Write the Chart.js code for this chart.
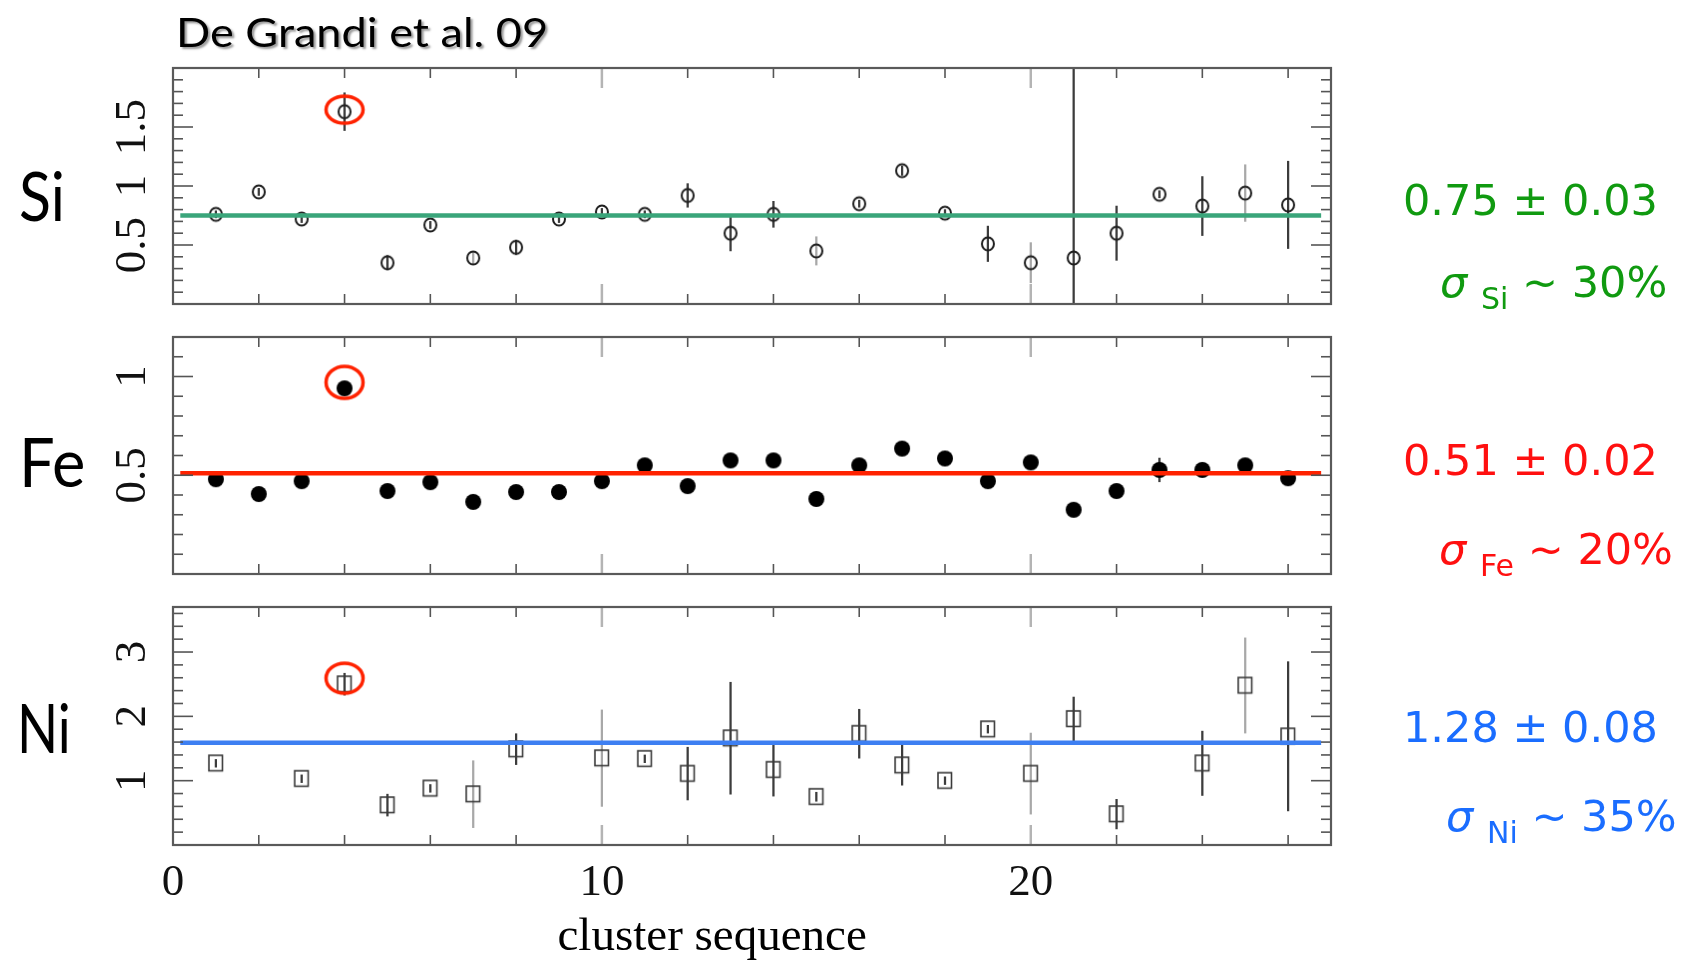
<!DOCTYPE html>
<html>
<head>
<meta charset="utf-8">
<title>Si, Fe and Ni abundances along the cluster sequence</title>
<script src="https://cdn.jsdelivr.net/npm/chart.js@4.4.1/dist/chart.umd.min.js"></script>
<style>
  html, body { margin: 0; padding: 0; background: #fff; }
  #page { position: relative; width: 1684px; height: 960px; overflow: hidden; background: #fff; }
  #page canvas { position: absolute; left: 0; top: 0; }
  .txt { position: absolute; left: 0; top: 0; white-space: nowrap; line-height: 1; }
  .sans { font-family: Lato, "Open Sans", sans-serif; color: #000; }
  .title { font-size: 40px; text-shadow: 2px 2px 2px rgba(0,0,0,0.4); }
  .elem { font-size: 68px; }
  .note { font-family: "DejaVu Sans", Verdana, sans-serif; font-size: 43px; }
  .note .sg { font-style: italic; }
  .note .sb { font-size: 30px; position: relative; top: 12px; }
  .axt { font-family: "Liberation Serif", "Times New Roman", serif; font-size: 47px; color: #000; }
  .green { color: #109a10; }
  .red { color: #ff1010; }
  .blue { color: #1a6dff; }
</style>
</head>
<body>
<div id="page">
  <canvas id="chartSi" width="1684" height="960"></canvas>
  <canvas id="chartFe" width="1684" height="960"></canvas>
  <canvas id="chartNi" width="1684" height="960"></canvas>

  <div class="txt sans title" id="tTitle">De Grandi et al. 09</div>
  <div class="txt sans elem" id="tSi">Si</div>
  <div class="txt sans elem" id="tFe">Fe</div>
  <div class="txt sans elem" id="tNi">Ni</div>

  <div class="txt note green" id="mSi">0.75 ± 0.03</div>
  <div class="txt note green" id="sSi"><span class="sg">σ</span> <span class="sb">Si</span> ~ 30%</div>
  <div class="txt note red" id="mFe">0.51 ± 0.02</div>
  <div class="txt note red" id="sFe"><span class="sg">σ</span> <span class="sb">Fe</span> ~ 20%</div>
  <div class="txt note blue" id="mNi">1.28 ± 0.08</div>
  <div class="txt note blue" id="sNi"><span class="sg">σ</span> <span class="sb">Ni</span> ~ 35%</div>

  <div class="txt axt" id="tAxis">cluster sequence</div>
</div>

<script>
// ---- data -------------------------------------------------------------
const clusters = [1, 2, 3, 4, 5, 6, 7, 8, 9, 10, 11, 12, 13, 14, 15, 16, 17, 18, 19, 20, 21, 22, 23, 24, 25, 26];

const siValues = [0.76, 0.95, 0.72, 1.63, 0.35, 0.67, 0.39, 0.48, 0.72, 0.78, 0.76, 0.92, 0.60,
                  0.76, 0.45, 0.85, 1.13, 0.77, 0.51, 0.35, 0.39, 0.60, 0.93, 0.83, 0.94, 0.84];
const siErrors = [0.03, 0.03, 0.03, 0.16, 0.06, 0.03, 0.05, 0.06, 0.03, 0.03, 0.03, 0.10, 0.15,
                  0.11, 0.12, 0.03, 0.04, 0.03, 0.15, 0.17, 2.50, 0.23, 0.03, 0.25, 0.24, 0.37];
const siGreyBars = [7, 15, 20, 25];

const feValues = [0.48, 0.405, 0.47, 0.94, 0.42, 0.465, 0.365, 0.415, 0.415, 0.47, 0.55, 0.445, 0.575,
                  0.575, 0.38, 0.55, 0.635, 0.585, 0.47, 0.565, 0.325, 0.42, 0.527, 0.527, 0.55, 0.485];
const feErrors = [0.02, 0.02, 0.02, 0.02, 0.02, 0.02, 0.02, 0.02, 0.02, 0.02, 0.02, 0.02, 0.02,
                  0.02, 0.02, 0.02, 0.02, 0.02, 0.02, 0.02, 0.02, 0.02, 0.06, 0.02, 0.02, 0.02];
const feGreyBars = [];

const niValues = [1.27, null, 1.03, 2.50, 0.62, 0.88, 0.79, 1.49, null, 1.35, 1.34, 1.11, 1.66,
                  1.17, 0.75, 1.73, 1.24, 1.00, 1.80, 1.11, 1.96, 0.48, null, 1.27, 2.48, 1.69];
const niErrors = [0.06, null, 0.06, 0.17, 0.17, 0.06, 0.52, 0.24, null, 0.75, 0.06, 0.41, 0.87,
                  0.41, 0.07, 0.38, 0.31, 0.06, 0.06, 0.63, 0.34, 0.23, null, 0.50, 0.74, 1.16];
const niGreyBars = [7, 10, 20, 25];

// horizontal reference level drawn across each panel
const siLevel = 0.75;
const feLevel = 0.51;
const niLevel = 1.59;
const levelSpan = [0.17, 26.77];

const flaggedCluster = 4;

// axis ticks
const xRange = [0, 27];
const xTickValues = [0, 10, 20];
const xTickLabels = ['0', '10', '20'];
const xTitle = 'cluster sequence';

const siRange = [0, 2];
const siTickValues = [0.5, 1, 1.5];
const siTickLabels = ['0.5', '1', '1.5'];
const feRange = [0, 1.2];
const feTickValues = [0.5, 1];
const feTickLabels = ['0.5', '1'];
const niRange = [0, 3.7];
const niTickValues = [1, 2, 3];
const niTickLabels = ['1', '2', '3'];

// ---- marker images ----------------------------------------------------
function makeMarker(w, h, draw) {
  const c = document.createElement('canvas');
  c.width = w; c.height = h;
  draw(c.getContext('2d'), w, h);
  return c;
}
const openCircle = makeMarker(18, 18, g => {
  g.strokeStyle = '#1e1e1e'; g.lineWidth = 2;
  g.beginPath(); g.ellipse(9, 9, 6, 6.6, 0, 0, Math.PI * 2); g.stroke();
});
const filledDot = makeMarker(18, 18, g => {
  g.fillStyle = '#000';
  g.beginPath(); g.arc(9, 9, 8, 0, Math.PI * 2); g.fill();
});
const openSquare = makeMarker(18, 20, g => {
  g.strokeStyle = '#3a3a3a'; g.lineWidth = 1.6;
  g.strokeRect(2, 2, 13.5, 15.5);
});
function ringMarker(ry, lift) {
  const w = 46, h = Math.ceil(2 * (ry + lift) + 8);
  return makeMarker(w, h, g => {
    g.strokeStyle = '#ff2200'; g.lineWidth = 3.5;
    g.beginPath(); g.ellipse(w / 2, h / 2 - lift, 18.5, ry, 0, 0, Math.PI * 2); g.stroke();
  });
}

// ---- frame, inner ticks and tick labels -------------------------------
const framePlugin = {
  id: 'panelFrame',
  afterDraw(chart, args, o) {
    const { ctx, chartArea: a } = chart;
    const xs = chart.scales.x, ys = chart.scales.y;
    const seg = (x1, y1, x2, y2) => { ctx.beginPath(); ctx.moveTo(x1, y1); ctx.lineTo(x2, y2); ctx.stroke(); };
    ctx.save();
    ctx.lineCap = 'butt';

    // ticks along top and bottom every 2 clusters
    for (let v = 2; v < xs.max; v += 2) {
      const px = xs.getPixelForValue(v);
      const major = v % 10 === 0;
      ctx.strokeStyle = major ? '#b4b4b4' : '#555';
      ctx.lineWidth = major ? 2.5 : 1.6;
      const len = major ? 20 : 10;
      seg(px, a.top, px, a.top + len);
      seg(px, a.bottom, px, a.bottom - len);
    }

    // ticks along left and right
    const n = Math.round((ys.max - ys.min) / o.minorStep);
    for (let i = 1; i < n; i++) {
      const v = ys.min + i * o.minorStep;
      const py = ys.getPixelForValue(v);
      const major = o.majors.some(m => Math.abs(m - v) < 1e-6);
      ctx.strokeStyle = '#555';
      ctx.lineWidth = 1.6;
      const len = major ? 20 : 10;
      seg(a.left, py, a.left + len, py);
      seg(a.right, py, a.right - len, py);
    }

    // frame
    ctx.strokeStyle = '#5a5a5a';
    ctx.lineWidth = 2.2;
    ctx.strokeRect(a.left, a.top, a.right - a.left, a.bottom - a.top);

    // rotated y tick labels
    ctx.fillStyle = '#111';
    ctx.font = '45px "Liberation Serif", "Times New Roman", serif';
    ctx.textAlign = 'center';
    ctx.textBaseline = 'alphabetic';
    o.majors.forEach((v, i) => {
      ctx.save();
      ctx.translate(a.left - 28, ys.getPixelForValue(v));
      ctx.rotate(-Math.PI / 2);
      ctx.fillText(o.labels[i], 0, 0);
      ctx.restore();
    });

    // x tick labels (bottom panel only)
    if (o.xLabels) {
      o.xLabels.values.forEach((v, i) => {
        ctx.fillText(o.xLabels.labels[i], xs.getPixelForValue(v), a.bottom + 50);
      });
    }
    ctx.restore();
  }
};

// ---- panel builder ----------------------------------------------------
function buildPanel(canvasId, cfg) {
  const errData = [], errColors = [], pts = [];
  clusters.forEach((c, i) => {
    const v = cfg.values[i], e = cfg.errors[i];
    if (v === null) return;
    pts.push({ x: c, y: v });
    errData.push({ x: c, y: [v - e, v + e] });
    errColors.push(cfg.greyBars.includes(c) ? '#a8a8a8' : '#3c3c3c');
  });
  const fi = clusters.indexOf(flaggedCluster);

  return new Chart(document.getElementById(canvasId), {
    type: 'scatter',
    data: {
      datasets: [
        {
          type: 'bar', data: errData, backgroundColor: errColors,
          barThickness: 1.6, grouped: false, borderWidth: 0, order: 4
        },
        {
          type: 'scatter', data: pts, pointStyle: cfg.marker,
          pointRadius: 6, order: 3
        },
        {
          type: 'line',
          data: [{ x: levelSpan[0], y: cfg.level }, { x: levelSpan[1], y: cfg.level }],
          borderColor: cfg.levelColor, borderWidth: 4.5, borderCapStyle: 'butt',
          pointRadius: 0, fill: false, order: 2
        },
        {
          type: 'scatter', data: [{ x: flaggedCluster, y: cfg.values[fi] }],
          pointStyle: cfg.ring, pointRadius: 10, order: 1
        }
      ]
    },
    options: {
      responsive: false,
      animation: false,
      events: [],
      layout: { padding: cfg.padding },
      plugins: {
        legend: { display: false },
        tooltip: { enabled: false },
        panelFrame: cfg.frame
      },
      scales: {
        x: { type: 'linear', min: xRange[0], max: xRange[1], offset: false, display: false },
        y: { type: 'linear', min: cfg.range[0], max: cfg.range[1], display: false }
      }
    },
    plugins: [framePlugin]
  });
}

const plotLeft = 173, plotRight = 1684 - 1331;

buildPanel('chartSi', {
  values: siValues, errors: siErrors, greyBars: siGreyBars,
  marker: openCircle, ring: ringMarker(13.5, 2),
  level: siLevel, levelColor: '#3aa57a', range: siRange,
  padding: { left: plotLeft, right: plotRight, top: 68, bottom: 960 - 304 },
  frame: { minorStep: 0.1, majors: siTickValues, labels: siTickLabels }
});
buildPanel('chartFe', {
  values: feValues, errors: feErrors, greyBars: feGreyBars,
  marker: filledDot, ring: ringMarker(16, 6),
  level: feLevel, levelColor: '#ff2200', range: feRange,
  padding: { left: plotLeft, right: plotRight, top: 337, bottom: 960 - 574 },
  frame: { minorStep: 0.1, majors: feTickValues, labels: feTickLabels }
});
buildPanel('chartNi', {
  values: niValues, errors: niErrors, greyBars: niGreyBars,
  marker: openSquare, ring: ringMarker(15, 6),
  level: niLevel, levelColor: '#3d7ff2', range: niRange,
  padding: { left: plotLeft, right: plotRight, top: 607, bottom: 960 - 845 },
  frame: {
    minorStep: 0.2, majors: niTickValues, labels: niTickLabels,
    xLabels: { values: xTickValues, labels: xTickLabels }
  }
});

// ---- text placement by baseline ---------------------------------------
function place(id, x, baseline, align, fitWidth) {
  const el = document.getElementById(id);
  const mark = document.createElement('span');
  mark.style.cssText = 'display:inline-block;width:0;height:0;vertical-align:baseline';
  el.appendChild(mark);
  let w = el.offsetWidth;
  if (fitWidth) {
    el.style.transformOrigin = '0 0';
    el.style.transform = 'scaleX(' + (fitWidth / w) + ')';
    w = fitWidth;
  }
  const b = mark.offsetTop;
  el.style.top = (baseline - b) + 'px';
  el.style.left = (align === 'right' ? x - w : align === 'center' ? x - w / 2 : x) + 'px';
}
document.getElementById('tAxis').textContent = xTitle;

place('tTitle', 176, 47, 'left', 372);
place('tSi', 19, 221, 'left', 46);
place('tFe', 19, 487, 'left', 66);
place('tNi', 17, 753, 'left', 54);

place('mSi', 1403, 215, 'left');
place('sSi', 1667, 297, 'right');
place('mFe', 1403, 475, 'left');
place('sFe', 1673, 564, 'right');
place('mNi', 1403, 742, 'left');
place('sNi', 1677, 831, 'right');

place('tAxis', 712, 950, 'center');
</script>
</body>
</html>
